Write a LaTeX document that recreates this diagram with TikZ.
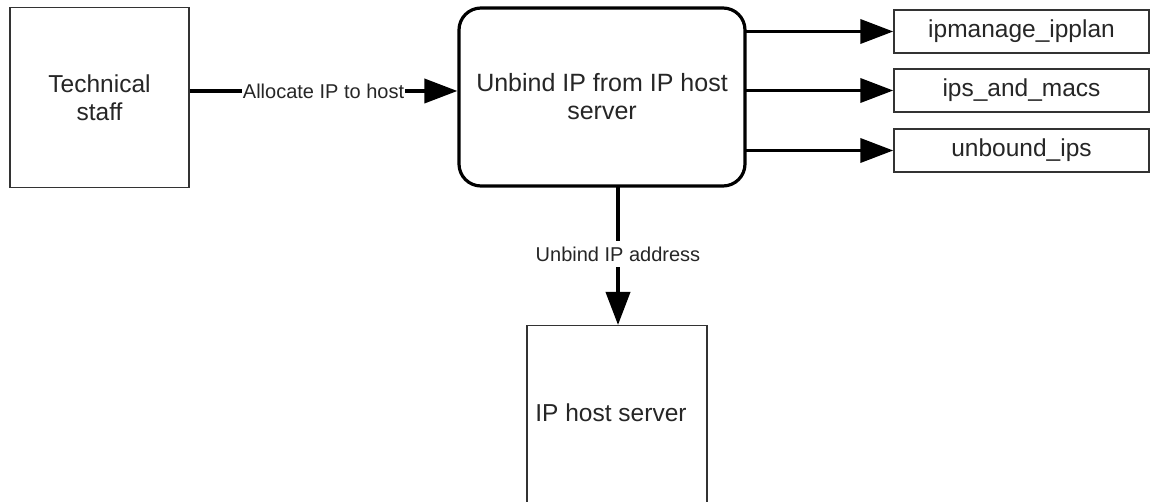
\documentclass[tikz,border=0pt]{standalone}
\usepackage{fontspec}
\setmainfont{Liberation Sans}
\usetikzlibrary{arrows.meta}
\begin{document}
\begin{tikzpicture}[x=1pt,y=-1pt,
  plainbox/.style={draw=black!80, line width=1.4pt, fill=white, inner sep=0pt, align=center,
    font=\fontsize{24.5}{28}\selectfont, text=black!85},
  procbox/.style={draw=black, line width=3.2pt, rounded corners=22pt, fill=white, inner sep=0pt, align=center,
    font=\fontsize{25}{28}\selectfont, text=black!85},
  flow/.style={line width=3.8pt, -{Triangle[length=33pt,width=24pt]}},
  lbl/.style={fill=white, inner xsep=1pt, inner ysep=1pt, font=\fontsize{20}{22}\selectfont, text=black!85}]
\clip (0,0) rectangle (1154,502);
\fill[white] (0,0) rectangle (1154,502);
\node[plainbox, minimum width=179pt, minimum height=180pt] (staff) at (99.5,97.5) {Technical\\staff};
\node[procbox, minimum width=286pt, minimum height=178pt] (unbind) at (602,97) {Unbind IP from IP host\\server};
\node[plainbox, minimum width=255pt, minimum height=43pt] (ipplan) at (1021.5,31.5) {ipmanage\_ipplan};
\node[plainbox, minimum width=255pt, minimum height=43pt] (macs) at (1021.5,90.5) {ips\_and\_macs};
\node[plainbox, minimum width=255pt, minimum height=43pt] (unbound) at (1021.5,150.5) {unbound\_ips};
\node[plainbox, minimum width=180pt, minimum height=200pt, anchor=north] (host) at (617,325) {};
\node[font=\fontsize{24.5}{28}\selectfont, text=black!85] (hosttext) at (611,413) {IP host server};
\coordinate (o1) at (745,31.5);
\coordinate (o2) at (745,90.5);
\coordinate (o3) at (745,150.5);
\coordinate (d0) at (618,186);
\draw[flow] (staff.east |- 0,91) -- node[lbl] {Allocate IP to host} (unbind.west |- 0,91);
\draw[flow] (o1) -- (ipplan.west);
\draw[flow] (o2) -- (macs.west);
\draw[flow] (o3) -- (unbound.west);
\draw[flow] (d0) -- node[lbl, inner ysep=6pt, pos=0.49] {Unbind IP address} (d0 |- host.north);
\end{tikzpicture}
\end{document}
